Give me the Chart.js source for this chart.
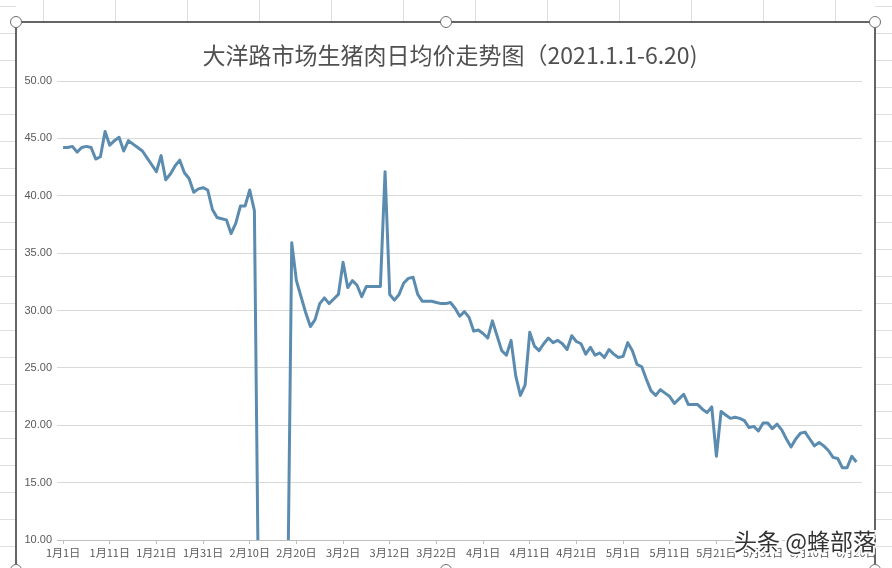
<!DOCTYPE html>
<html>
<head>
<meta charset="utf-8">
<script src="https://cdn.jsdelivr.net/npm/chart.js@4.4.0/dist/chart.umd.min.js"></script>
<style>
  html, body { margin: 0; padding: 0; background: #fff; }
  #wrap { width: 892px; height: 568px; position: relative; }
</style>
</head>
<body>
<div id="wrap"><canvas id="myLineChart" width="892" height="568"></canvas></div>
<script>
// title and axis ticks
var chartTitle = "大洋路市场生猪肉日均价走势图（2021.1.1-6.20)";
var startDate = [2021, 0, 1];   // 1月1日
var tickDays = [0, 10, 20, 30, 40, 50, 60, 70, 80, 90, 100, 110, 120, 130, 140, 150, 160, 170];
var yTicks = [10, 15, 20, 25, 30, 35, 40, 45, 50];

// daily average price, 1.1 - 6.20 (0 = no market during spring festival)
var prices = [
  44.2, 44.2, 44.3, 43.8, 44.2, 44.3, 44.2, 43.2, 43.4, 45.6,
  44.4, 44.8, 45.1, 43.9, 44.8, 44.5, 44.2, 43.9, 43.3, 42.7,
  42.1, 43.5, 41.4, 41.9, 42.6, 43.1, 42.0, 41.5, 40.3, 40.6,
  40.7, 40.5, 38.8, 38.1, 38.0, 37.9, 36.7, 37.6, 39.1, 39.1,
  40.5, 38.7, 0, 0, 0, 0, 0, 0, 0, 35.9,
  32.6, 31.2, 29.8, 28.6, 29.2, 30.6, 31.1, 30.6, 31.0, 31.4,
  34.2, 32.0, 32.6, 32.2, 31.2, 32.1, 32.1, 32.1, 32.1, 42.1,
  31.4, 30.9, 31.4, 32.4, 32.8, 32.9, 31.4, 30.8, 30.8, 30.8,
  30.7, 30.6, 30.6, 30.7, 30.2, 29.5, 29.9, 29.4, 28.2, 28.3,
  28.0, 27.6, 29.1, 27.8, 26.5, 26.1, 27.4, 24.3, 22.6, 23.5,
  28.1, 26.9, 26.5, 27.1, 27.6, 27.2, 27.4, 27.1, 26.6, 27.8,
  27.3, 27.1, 26.2, 26.8, 26.1, 26.3, 25.9, 26.6, 26.2, 25.9,
  26.0, 27.2, 26.5, 25.3, 25.1, 24.0, 23.0, 22.6, 23.1, 22.8,
  22.5, 21.9, 22.3, 22.7, 21.8, 21.8, 21.8, 21.4, 21.1, 21.6,
  17.3, 21.2, 20.9, 20.6, 20.7, 20.6, 20.4, 19.8, 19.9, 19.5,
  20.2, 20.2, 19.7, 20.1, 19.6, 18.8, 18.1, 18.8, 19.3, 19.4,
  18.8, 18.2, 18.5, 18.2, 17.8, 17.2, 17.1, 16.3, 16.3, 17.3,
  16.8
];

var watermark = "头条 @蜂部落";

// day labels like 1月11日
var dayLabels = [];
for (var i = 0; i < prices.length; i++) {
  var d = new Date(startDate[0], startDate[1], startDate[2] + i);
  dayLabels.push((d.getMonth() + 1) + "月" + d.getDate() + "日");
}

var points = [];
for (var i = 0; i < prices.length; i++) {
  points.push({ x: i, y: prices[i] });
}

var cnFont = "'Noto Sans CJK SC', 'Microsoft YaHei', sans-serif";

// excel sheet behind the chart, frame, title and watermark
var sheetPlugin = {
  id: "sheet",
  beforeDraw: function(chart) {
    var ctx = chart.ctx;
    ctx.save();
    ctx.fillStyle = "#ffffff";
    ctx.fillRect(0, 0, chart.width, chart.height);
    ctx.strokeStyle = "#dedede";
    ctx.lineWidth = 1;
    for (var x = 43; x < chart.width; x += 72) {
      ctx.beginPath(); ctx.moveTo(x + 0.5, 0); ctx.lineTo(x + 0.5, 22); ctx.stroke();
    }
    for (var y = 6; y < chart.height; y += 27) {
      ctx.beginPath(); ctx.moveTo(0, y + 0.5); ctx.lineTo(16, y + 0.5); ctx.stroke();
      ctx.beginPath(); ctx.moveTo(875, y + 0.5); ctx.lineTo(892, y + 0.5); ctx.stroke();
    }
    // chart box
    ctx.fillStyle = "#ffffff";
    ctx.fillRect(16, 22, 859, 560);
    ctx.strokeStyle = "#333333";
    ctx.lineWidth = 1.5;
    ctx.strokeRect(16, 22, 859, 560);
    ctx.restore();
  },
  afterDraw: function(chart) {
    var ctx = chart.ctx;
    ctx.save();
    // selection handles
    var handles = [[16, 22], [446, 22], [875, 22], [16, 570], [446, 570], [875, 570]];
    ctx.lineWidth = 1;
    ctx.strokeStyle = "#6e6e6e";
    ctx.fillStyle = "#ffffff";
    handles.forEach(function(h) {
      ctx.beginPath();
      ctx.arc(h[0], h[1], 5.5, 0, Math.PI * 2);
      ctx.fill();
      ctx.stroke();
    });
    // title
    ctx.fillStyle = "#505050";
    ctx.font = "23px " + cnFont;
    ctx.textAlign = "center";
    ctx.textBaseline = "middle";
    ctx.fillText(chartTitle, 450, 55);
    // watermark
    ctx.font = "23px " + cnFont;
    ctx.textAlign = "right";
    ctx.lineWidth = 4;
    ctx.strokeStyle = "rgba(255,255,255,0.9)";
    ctx.strokeText(watermark, 876, 541);
    ctx.fillStyle = "#333333";
    ctx.fillText(watermark, 876, 541);
    ctx.restore();
  }
};

var chartdata = {
  datasets: [{
    label: "日均价",
    data: points,
    fill: false,
    tension: 0,
    borderColor: "#5b8cb0",
    backgroundColor: "#5b8cb0",
    borderWidth: 3,
    pointRadius: 0,
    borderJoinStyle: "round"
  }]
};

var options = {
  responsive: false,
  animation: false,
  layout: { padding: { top: 81, right: 30, left: 0, bottom: 0 } },
  plugins: {
    legend: { display: false },
    title: { display: false },
    tooltip: { enabled: false }
  },
  scales: {
    x: {
      type: "linear",
      min: -1.3,
      max: 171.2,
      afterFit: function(scale) { scale.height = 28; },
      afterBuildTicks: function(scale) {
        scale.ticks = tickDays.map(function(v) { return { value: v }; });
      },
      ticks: {
        autoSkip: false,
        maxRotation: 0,
        padding: 2,
        color: "#595959",
        font: { size: 11, family: cnFont },
        callback: function(v) { return dayLabels[v]; }
      },
      grid: { drawOnChartArea: false, drawTicks: true, tickLength: 4, color: "#bfbfbf" },
      border: { display: true, color: "#bfbfbf" }
    },
    y: {
      min: 10,
      max: 50,
      afterFit: function(scale) { scale.width = 57; },
      afterBuildTicks: function(scale) {
        scale.ticks = yTicks.map(function(v) { return { value: v }; });
      },
      ticks: {
        padding: 5,
        color: "#595959",
        font: { size: 11, family: "'Liberation Sans', Arial, sans-serif" },
        callback: function(v) { return v.toFixed(2); }
      },
      grid: { color: "#d9d9d9", drawTicks: false },
      border: { display: false }
    }
  }
};

var ctx = document.getElementById("myLineChart").getContext("2d");
var chart = new Chart(ctx, {
  type: "line",
  data: chartdata,
  options: options,
  plugins: [sheetPlugin]
});
</script>
</body>
</html>
